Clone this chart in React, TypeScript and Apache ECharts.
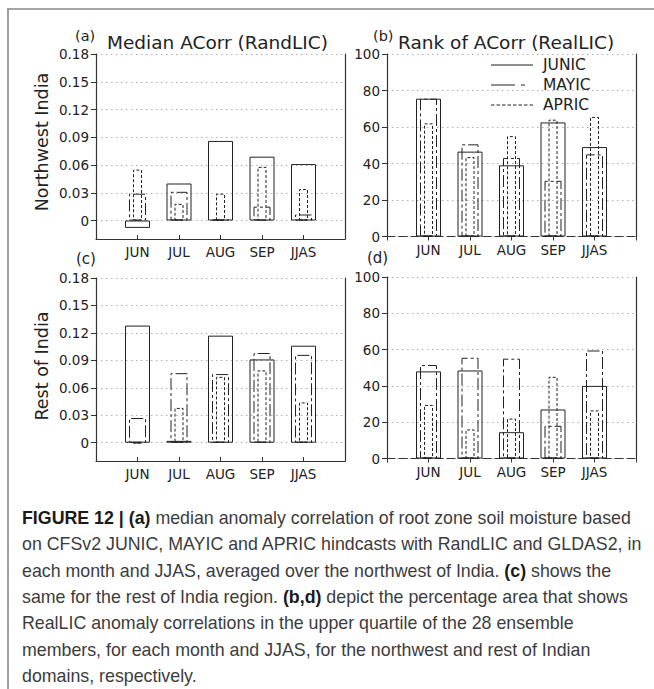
import React, { useEffect, useRef } from 'react';
import * as echarts from 'echarts';

// ---------- data ----------
const months = ['JUN', 'JUL', 'AUG', 'SEP', 'JJAS'];
const xCats = ['', ...months, ''];
const icNames = ['JUNIC', 'MAYIC', 'APRIC'];

// (a) Median ACorr (RandLIC), Northwest India
const nwMedianJUNIC = [-0.008, 0.040, 0.086, 0.069, 0.061];
const nwMedianMAYIC = [0.029, 0.031, 0.001, 0.015, 0.0065];
const nwMedianAPRIC = [0.055, 0.018, 0.029, 0.058, 0.034];

// (b) Rank of ACorr (RealLIC), Northwest India
const nwRankJUNIC = [75.5, 46.5, 39, 62.5, 49];
const nwRankMAYIC = [75.5, 50.5, 43, 30.5, 45];
const nwRankAPRIC = [62, 43.5, 55, 64, 65.5];

// (c) Median ACorr (RandLIC), Rest of India
const roiMedianJUNIC = [0.128, 0.002, 0.117, 0.091, 0.106];
const roiMedianMAYIC = [0.027, 0.076, 0.075, 0.098, 0.096];
const roiMedianAPRIC = [-0.001, 0.038, 0.072, 0.079, 0.044];

// (d) Rank of ACorr (RealLIC), Rest of India
const roiRankJUNIC = [48, 48.5, 14.5, 27, 40];
const roiRankMAYIC = [51.5, 55.5, 55, 18, 59.5];
const roiRankAPRIC = [29.5, 16, 22, 45, 26.5];

const acorrTicks = [0, 0.03, 0.06, 0.09, 0.12, 0.15, 0.18];

const captionLines = [
  '{b|FIGURE 12 | (a)} median anomaly correlation of root zone soil moisture based',
  'on CFSv2 JUNIC, MAYIC and APRIC hindcasts with RandLIC and GLDAS2, in',
  'each month and JJAS, averaged over the northwest of India. {b|(c)} shows the',
  'same for the rest of India region. {b|(b,d)} depict the percentage area that shows',
  'RealLIC anomaly correlations in the upper quartile of the 28 ensemble',
  'members, for each month and JJAS, for the northwest and rest of Indian',
  'domains, respectively.',
];

// ---------- styling ----------
const panelData = [
  [nwMedianJUNIC, nwMedianMAYIC, nwMedianAPRIC],
  [nwRankJUNIC, nwRankMAYIC, nwRankAPRIC],
  [roiMedianJUNIC, roiMedianMAYIC, roiMedianAPRIC],
  [roiRankJUNIC, roiRankMAYIC, roiRankAPRIC],
];
const grids = [
  { left: 96, top: 54, width: 249, height: 185 },
  { left: 387, top: 54, width: 249, height: 182.5 },
  { left: 96, top: 278, width: 249, height: 183 },
  { left: 387, top: 277, width: 249, height: 181.5 },
];
const barWidths = [25, 17, 9];
const barDash: any[] = ['solid', [12, 3, 3, 3], [3, 2]];
const FONT = 'DejaVu Sans';
const INK = '#222';
const AXIS = '#333';

export default function App() {
  const ref = useRef<HTMLDivElement>(null);
  useEffect(() => {
    if (!ref.current) return;
    const chart = echarts.init(ref.current, undefined, { renderer: 'svg' });

    const xAxis: any[] = [];
    const yAxis: any[] = [];
    const series: any[] = [];

    grids.forEach((g, p) => {
      const isRank = p % 2 === 1;
      for (let k = 0; k < 3; k++) {
        xAxis.push({
          gridIndex: p,
          type: 'category',
          data: xCats,
          boundaryGap: false,
          show: k === 0,
          axisLine: {
            onZero: false,
            lineStyle: { color: AXIS, width: 1.2, type: isRank ? [8, 4] : 'solid' },
          },
          axisTick: { show: true, inside: !isRank, length: 4, interval: 0, lineStyle: { color: AXIS } },
          axisLabel: { interval: 0, color: INK, fontFamily: FONT, fontSize: 13.5, margin: 6 },
          splitLine: { show: false },
        });
      }
      const yBase: any = {
        gridIndex: p,
        type: 'value',
        axisLine: { show: true, lineStyle: { color: AXIS, width: 1.2 } },
        splitLine: { show: true, lineStyle: { type: [1.5, 3.5], color: '#b0b0b0', width: 1 } },
        axisLabel: { color: INK, fontFamily: FONT, fontSize: 13.5, margin: 7 },
        axisTick: { show: true, length: 5, lineStyle: { color: AXIS } },
      };
      if (isRank) {
        yAxis.push({ ...yBase, min: 0, max: 100, interval: 20 });
      } else {
        yAxis.push({
          ...yBase,
          min: -0.02,
          max: 0.18,
          axisTick: { ...yBase.axisTick, customValues: acorrTicks },
          axisLabel: {
            ...yBase.axisLabel,
            customValues: acorrTicks,
            formatter: (v: number) => (Math.abs(v) < 1e-9 ? '0' : v.toFixed(2)),
          },
        });
      }
      panelData[p].forEach((vals, k) => {
        series.push({
          type: 'bar',
          name: icNames[k],
          xAxisIndex: p * 3 + k,
          yAxisIndex: p,
          data: ['-', ...vals, '-'],
          barWidth: barWidths[k],
          silent: true,
          z: 3 + k,
          itemStyle: {
            color: 'rgba(0,0,0,0)',
            borderColor: INK,
            borderWidth: 1,
            borderType: barDash[k],
          },
        });
      });
    });
    // right frame lines
    grids.forEach((g, p) => {
      yAxis.push({
        gridIndex: p,
        type: 'value',
        position: 'right',
        min: 0,
        max: 1,
        axisLine: { show: true, lineStyle: { color: AXIS, width: 1.2 } },
        axisTick: { show: false },
        axisLabel: { show: false },
        splitLine: { show: false },
      });
    });

    const graphic: any[] = [
      {
        type: 'rect',
        shape: { x: 8, y: 9, width: 700, height: 720 },
        style: { fill: 'none', stroke: '#888', lineWidth: 1.6 },
        silent: true,
        z: -1,
      },
      { type: 'text', x: 75, y: 36, style: { text: '(a)', font: `14.5px "${FONT}"`, fill: INK, verticalAlign: 'middle' } },
      { type: 'text', x: 107, y: 42, style: { text: 'Median ACorr (RandLIC)', font: `18.5px "${FONT}"`, fill: INK, verticalAlign: 'middle' } },
      { type: 'text', x: 373, y: 36, style: { text: '(b)', font: `14.5px "${FONT}"`, fill: INK, verticalAlign: 'middle' } },
      { type: 'text', x: 398, y: 42, style: { text: 'Rank of ACorr (RealLIC)', font: `18.5px "${FONT}"`, fill: INK, verticalAlign: 'middle' } },
      { type: 'text', x: 76, y: 259, style: { text: '(c)', font: `15px "${FONT}"`, fill: INK, verticalAlign: 'middle' } },
      { type: 'text', x: 367, y: 258, style: { text: '(d)', font: `15px "${FONT}"`, fill: INK, verticalAlign: 'middle' } },
      {
        type: 'text', x: 42, y: 142, rotation: Math.PI / 2,
        style: { text: 'Northwest India', font: `17.5px "${FONT}"`, fill: INK, align: 'center', verticalAlign: 'middle' },
      },
      {
        type: 'text', x: 42, y: 366, rotation: Math.PI / 2,
        style: { text: 'Rest of India', font: `17.5px "${FONT}"`, fill: INK, align: 'center', verticalAlign: 'middle' },
      },
    ];
    // legend in panel (b)
    const legendY = [65, 85, 105];
    const legendDash: any[] = [null, [24, 6, 4, 30], [3.5, 2]];
    icNames.forEach((n, k) => {
      graphic.push({
        type: 'line',
        shape: { x1: 491, y1: legendY[k], x2: 533, y2: legendY[k] },
        style: { stroke: INK, lineWidth: 1, lineDash: legendDash[k] },
      });
      graphic.push({
        type: 'text', x: 543, y: legendY[k],
        style: { text: n, font: `15.5px "${FONT}"`, fill: INK, verticalAlign: 'middle' },
      });
    });
    // caption
    const capFont = 'Liberation Sans';
    captionLines.forEach((t, i) => {
      graphic.push({
        type: 'text',
        x: 22,
        y: 518 + i * 26.3,
        style: {
          text: t,
          fontFamily: capFont,
          fontSize: 17.8,
          fill: '#3c3c3c',
          verticalAlign: 'middle',
          rich: {
            b: { fontFamily: capFont, fontSize: 17.8, fontWeight: 'bold', fill: '#1a1a1a' },
          },
        },
      });
    });

    chart.setOption({
      animation: false,
      backgroundColor: '#fff',
      grid: grids.map((g) => ({ ...g, containLabel: false })),
      xAxis,
      yAxis,
      series,
      graphic,
    });
    return () => chart.dispose();
  }, []);

  return (
    <div
      ref={ref}
      style={{ position: 'absolute', left: 0, top: 0, width: 654, height: 689 }}
    />
  );
}
